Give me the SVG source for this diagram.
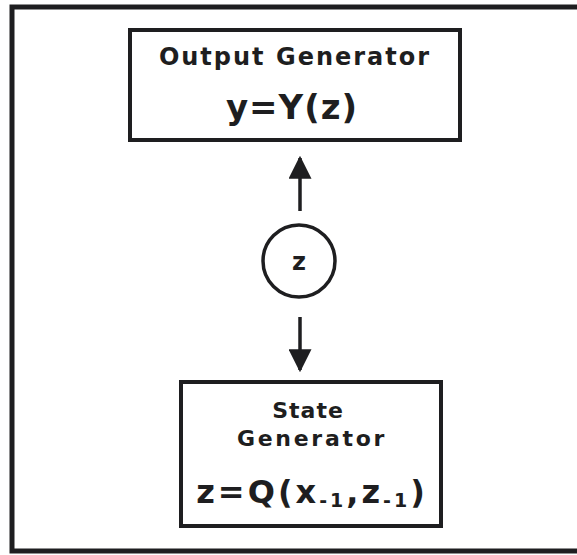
<svg xmlns="http://www.w3.org/2000/svg" width="577" height="555" viewBox="0 0 577 555">
<defs>
<style>
.box{fill:#fff;stroke:#1e1e20;stroke-width:4}
.lbl{font-family:"DejaVu Sans","Liberation Sans",sans-serif;font-weight:bold;fill:#1e1e20;text-anchor:middle}
.sub{font-size:19px}
.conn{stroke:#1e1e20;stroke-width:3.5;fill:none}
</style>
<marker id="ah" viewBox="0 0 10 10" refX="9" refY="5" markerUnits="userSpaceOnUse" markerWidth="23" markerHeight="23" orient="auto">
<path d="M0,0 L10,5 L0,10 Z" fill="#1e1e20"/>
</marker>
</defs>
<rect width="577" height="555" fill="#fff"/>
<g id="frame">
<path d="M580,7 L12,7 L12,551 L580,551" fill="none" stroke="#1e1e20" stroke-width="5"/>
</g>
<g id="output-generator">
<rect class="box" x="130" y="30" width="330" height="110"/>
<text class="lbl" x="295" y="65" font-size="24" letter-spacing="2">Output Generator</text>
<text class="lbl" x="292" y="119" font-size="34" letter-spacing="1">y=Y(z)</text>
</g>
<g id="state-z">
<circle cx="299" cy="261" r="36" fill="#fff" stroke="#1e1e20" stroke-width="3.5"/>
<text class="lbl" x="299" y="270" font-size="24">z</text>
</g>
<g id="state-generator">
<rect class="box" x="181" y="382" width="260" height="144"/>
<text class="lbl" x="308" y="418" font-size="22" letter-spacing="1">State</text>
<text class="lbl" x="312" y="446" font-size="22" letter-spacing="2.7">Generator</text>
<text class="lbl" x="312" y="503" font-size="32" letter-spacing="3">z=Q(x<tspan class="sub" dy="4">-1</tspan><tspan dy="-4">,z</tspan><tspan class="sub" dy="4">-1</tspan><tspan dy="-4">)</tspan></text>
</g>
<g id="connectors">
<line class="conn" x1="300" y1="211" x2="300" y2="158" marker-end="url(#ah)"/>
<line class="conn" x1="300" y1="317" x2="300" y2="370" marker-end="url(#ah)"/>
</g>
</svg>
